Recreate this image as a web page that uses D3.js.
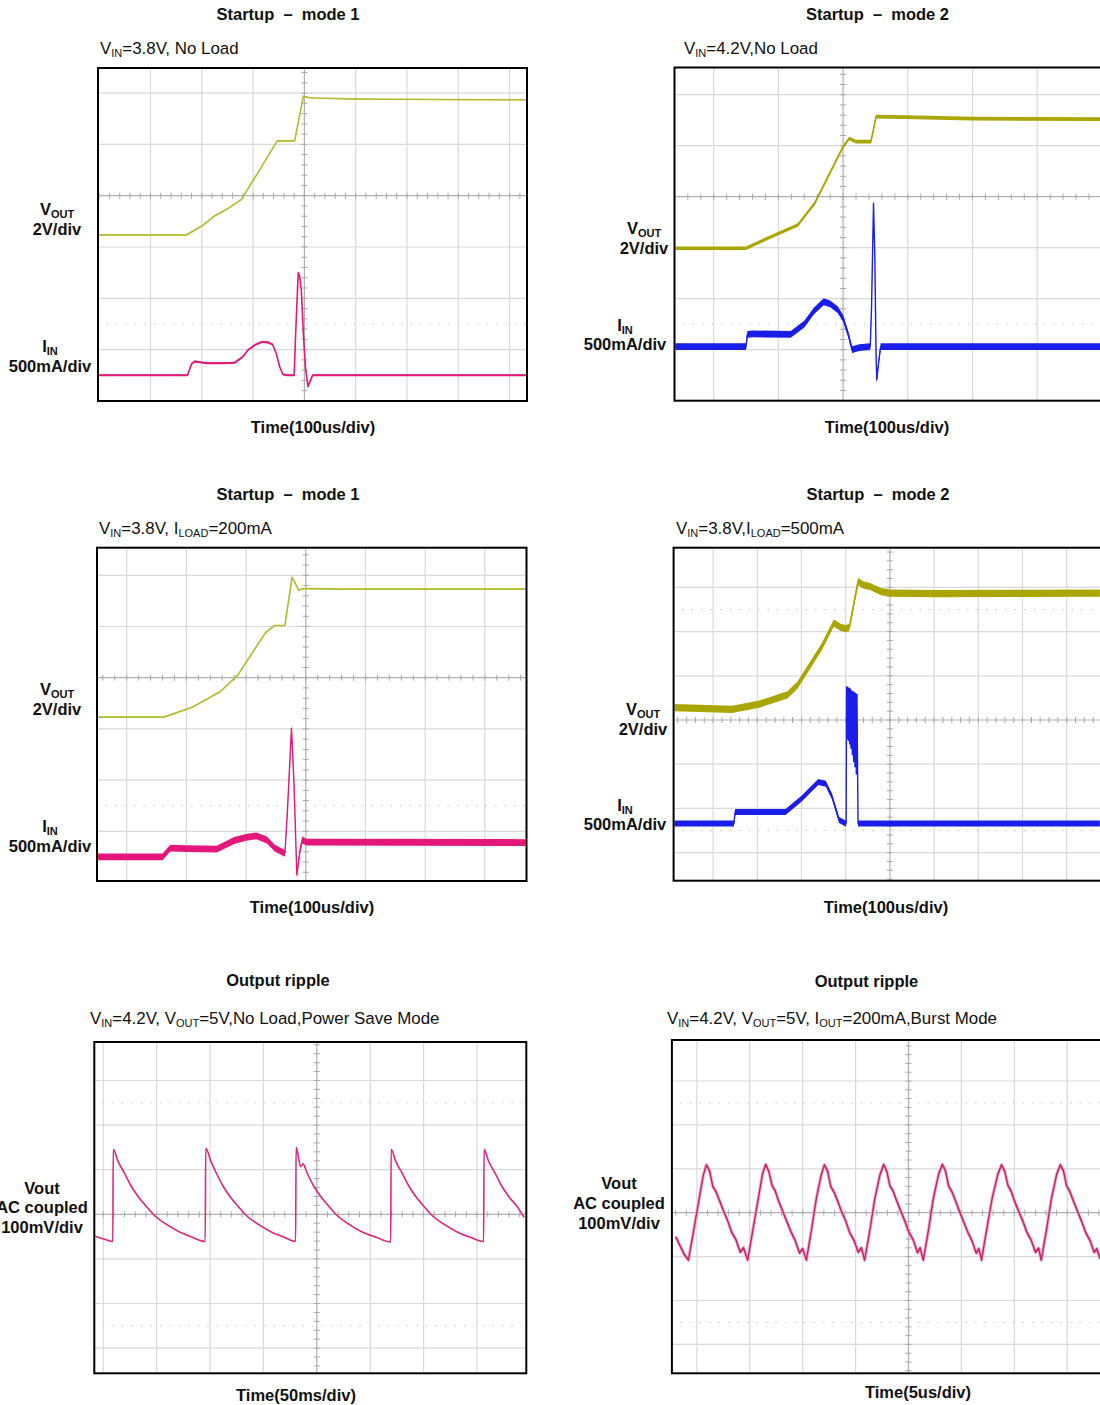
<!DOCTYPE html>
<html>
<head>
<meta charset="utf-8">
<script src="https://cdn.jsdelivr.net/npm/d3@7/dist/d3.min.js"></script>
<style>
  body { margin: 0; background: #fff; }
  svg { display: block; font-family: "Liberation Sans", Arial, sans-serif; }
</style>
</head>
<body>
<svg id="chart" width="1100" height="1405"></svg>
<script>
// ---- waveform data, read off the scope shots ----
// startup traces: [time us, volts] and [time us, mA]
const p1Vout = [[-404,0],[-230,0],[-200,0.35],[-177,0.72],[-150,1.02],[-123,1.38],[-90,2.45],[-53,3.67],[-19,3.67],[-2,5.41],[8,5.36],[18,5.34],[100,5.30],[250,5.28],[440,5.27]];
const p1Iin = [[-404,0],[-228,0],[-220,110],[-214,135],[-200,125],[-190,118],[-160,118],[-136,122],[-120,180],[-110,245],[-95,300],[-83,325],[-70,320],[-62,300],[-55,215],[-48,80],[-42,10],[-35,0],[-20,0],[-17,410],[-12,1000],[-9,960],[-6,830],[-2,400],[2,80],[7,-110],[11,-60],[16,0],[440,0]];

const p2Vout = [[-262,0],[-150,0],[-120,0.35],[-70,0.91],[-44,1.76],[0,3.98],[9.5,4.30],[20,4.18],[43,4.18],[51,5.16],[95,5.14],[200,5.08],[400,5.06]];
const p2Iin = [[-262,0],[-150,0],[-148,120],[-140,125],[-81,120],[-60,220],[-45,350],[-30,440],[-20,420],[-8,360],[0,278],[8,120],[14,-30],[25,-10],[42,0],[44,400],[47,1405],[49,900],[51,-100],[52,-325],[55,-150],[58,0],[400,0]];

const p3Vout = [[-351,0],[-238,0],[-189,0.40],[-143,1.0],[-114,1.64],[-68,3.28],[-52,3.58],[-35,3.58],[-23,5.46],[-17,5.2],[-12,4.96],[-5,5.02],[65,5.0],[371,5.0]];
const p3Iin = [[-351,0],[-240,0],[-227,85],[-200,80],[-149,75],[-120,160],[-100,190],[-83,205],[-65,165],[-52,85],[-35,35],[-31,425],[-24,1255],[-20,750],[-15,-175],[-10,50],[-6,165],[1,145],[371,140]];

const p4Vout = [[-492,0],[-357,-0.08],[-295,0.16],[-232,0.58],[-209,1.02],[-154,2.76],[-127,3.82],[-110,3.62],[-100,3.58],[-92,3.62],[-72,5.70],[-60,5.55],[-45,5.48],[-20,5.25],[2,5.18],[100,5.16],[475,5.18]];
const p4Iin = [[-492,0],[-353,0],[-350,130],[-345,130],[-236,130],[-200,280],[-162,470],[-145,450],[-131,305],[-115,40],[-100,0],
  [-99,0],[-98,1545],[-97,960],[-95.5,1540],[-94,940],[-92.5,1530],[-91,900],[-89.5,1520],[-88,850],[-86.5,1500],[-85,780],[-83.5,1490],[-82,700],[-80.5,1480],[-79,640],[-77.5,1470],[-76,560],[-74.5,1460],[-73,520],
  [-72,0],[-68,0],[475,0]];

// ripple traces: [time ms, mV] and [time us, mV]
const p5Ripple = [[-208,-49],[-200,-55],[-191,-61],[-190.6,146],[-186,118],[-180,92],[-174,64],[-167,39],[-159,16],[-151,-5],[-141,-22],[-129,-39],[-117,-51],[-104.5,-61],
  [-104,148],[-99,118],[-94,92],[-88,64],[-81,39],[-73,16],[-65,-5],[-55,-22],[-43,-39],[-31,-51],[-19.8,-61],
  [-19.4,150],[-15,107],[-13,113],[-9,92],[-3,64],[4,39],[12,16],[20,-5],[30,-22],[42,-39],[55,-51],[69.2,-62],
  [69.6,146],[74,118],[80,92],[86,64],[93,39],[101,16],[109,-5],[119,-22],[131,-39],[143,-51],[156.2,-61],
  [156.6,145],[161,118],[167,92],[173,64],[180,39],[188,16],[194,-7]];

const p6Ripple = [[-22.0,-55],[-21.5,-80],[-21.2,-95],[-20.8,-108],
  [-20.3,-40],[-19.8,30],[-19.4,85],[-19.1,109],
  [-18.8,95],[-18.5,60],[-18.2,48],[-17.9,30],[-17.5,5],[-17.1,-18],[-16.7,-45],[-16.3,-62],[-15.9,-90],[-15.6,-80],[-15.2,-108],
  [-14.7,-38],[-14.2,32],[-13.8,88],[-13.5,110],
  [-13.2,94],[-12.9,62],[-12.6,50],[-12.3,28],[-11.9,4],[-11.5,-20],[-11.1,-44],[-10.7,-64],[-10.3,-92],[-10.0,-82],[-9.65,-108],
  [-9.15,-36],[-8.7,34],[-8.25,86],[-7.95,109],
  [-7.65,95],[-7.35,60],[-7.05,47],[-6.75,30],[-6.35,4],[-5.95,-18],[-5.55,-46],[-5.15,-63],[-4.75,-90],[-4.45,-80],[-4.15,-108],
  [-3.65,-40],[-3.2,30],[-2.7,86],[-2.35,110],
  [-2.05,94],[-1.75,61],[-1.45,49],[-1.15,29],[-0.75,5],[-0.35,-19],[0.05,-45],[0.45,-62],[0.85,-91],[1.1,-80],[1.4,-108],
  [1.9,-38],[2.35,33],[2.85,88],[3.2,110],
  [3.5,95],[3.8,60],[4.1,48],[4.4,30],[4.8,4],[5.2,-20],[5.6,-44],[6.0,-64],[6.4,-92],[6.65,-82],[6.9,-108],
  [7.4,-37],[7.9,32],[8.45,88],[8.8,109],
  [9.1,94],[9.4,62],[9.7,49],[10.0,28],[10.4,4],[10.8,-19],[11.2,-45],[11.6,-63],[12.0,-90],[12.3,-81],[12.55,-108],
  [13.05,-38],[13.5,31],[14.0,87],[14.35,109],
  [14.65,95],[14.95,61],[15.25,48],[15.55,29],[15.95,5],[16.35,-19],[16.75,-45],[17.15,-63],[17.55,-90],[17.8,-82],[18.1,-105]];

// ---- text ----
const titles = ["Startup  \u2013  mode 1", "Startup  \u2013  mode 2", "Startup  \u2013  mode 1", "Startup  \u2013  mode 2", "Output ripple", "Output ripple"];
const subtitles = [
  [["V"],["IN","s"],["=3.8V, No Load"]],
  [["V"],["IN","s"],["=4.2V,No Load"]],
  [["V"],["IN","s"],["=3.8V, I"],["LOAD","s"],["=200mA"]],
  [["V"],["IN","s"],["=3.8V,I"],["LOAD","s"],["=500mA"]],
  [["V"],["IN","s"],["=4.2V, V"],["OUT","s"],["=5V,No Load,Power Save Mode"]],
  [["V"],["IN","s"],["=4.2V, V"],["OUT","s"],["=5V, I"],["OUT","s"],["=200mA,Burst Mode"]]
];
const timeLabels = ["Time(100us/div)", "Time(100us/div)", "Time(100us/div)", "Time(100us/div)", "Time(50ms/div)", "Time(5us/div)"];
const voutLabel = [["V"],["OUT","s"]];
const iinLabel = [["I"],["IN","s"]];
const rippleLabel = ["Vout", "AC coupled", "100mV/div"];

// ---- layout of each scope shot (frame px, graticule centre, px per div) ----
const panels = [
  {id:"p1", frame:[97,67,528,402], cx:304.4, cy:195.7, dx:51.3, dy:51.3, tDiv:100,
   title:[288,14], sub:[100,48], time:[313,427],
   labels:[[57,209,voutLabel],[57,229,"2V/div"],[50,346,iinLabel],[50,366,"500mA/div"]],
   traces:[{data:p1Vout, perDiv:2, off:-0.766, color:"#b5b92e", band:0.4, w:1.6},
           {data:p1Iin, perDiv:500, off:-3.50, color:"#e5177b", band:1.0, w:1.6}]},
  {id:"p2", frame:[673.5,66.5,1112,401.7], cx:843.1, cy:196.7, dx:64.7, dy:51, tDiv:100,
   title:[877.5,14], sub:[684,48], time:[887,427],
   labels:[[644,228,voutLabel],[644,248,"2V/div"],[625,325,iinLabel],[625,344,"500mA/div"]],
   traces:[{data:p2Vout, perDiv:2, off:-1.01, color:"#aaa600", band:1.8, w:1.6},
           {data:p2Iin, perDiv:500, off:-2.94, color:"#1b1de8", band:3.4, w:1.4}]},
  {id:"p3", frame:[96,546.7,527.5,882], cx:305.8, cy:677.7, dx:59.7, dy:51.2, tDiv:100,
   title:[288,494], sub:[99,528], time:[312,907],
   labels:[[57,689,voutLabel],[57,709,"2V/div"],[50,826,iinLabel],[50,846,"500mA/div"]],
   traces:[{data:p3Vout, perDiv:2, off:-0.77, color:"#b5b92e", band:0.4, w:1.6},
           {data:p3Iin, perDiv:500, off:-3.50, color:"#e5177b", band:3.4, w:1.4}]},
  {id:"p4", frame:[672.6,546.7,1112,881.7], cx:889.9, cy:720, dx:44.2, dy:44.2, tDiv:100,
   title:[878,494], sub:[676,528], time:[886,907],
   labels:[[643,709,voutLabel],[643,729,"2V/div"],[625,805,iinLabel],[625,824,"500mA/div"]],
   traces:[{data:p4Vout, perDiv:2, off:0.28, color:"#aaa600", band:3.6, w:1.6},
           {data:p4Iin, perDiv:500, off:-2.34, color:"#1b1de8", band:3.0, w:1.4}]},
  {id:"p5", frame:[93.3,1041,527.3,1374.3], cx:316.8, cy:1214.3, dx:53.4, dy:44.6, tDiv:50,
   title:[278,980], sub:[90,1018], time:[296,1395],
   labels:[[42,1188,rippleLabel[0]],[42,1207,rippleLabel[1]],[42,1227,rippleLabel[2]]],
   traces:[{data:p5Ripple, perDiv:100, off:0, color:"#e0267f", band:0.3, w:1.6, curve:true}]},
  {id:"p6", frame:[670.9,1039,1112,1374.3], cx:908.5, cy:1212.7, dx:52.9, dy:43.9, tDiv:5,
   title:[866.5,981], sub:[667,1018], time:[918,1392],
   labels:[[619,1183,rippleLabel[0]],[619,1203,rippleLabel[1]],[619,1223,rippleLabel[2]]],
   traces:[{data:p6Ripple, perDiv:100, off:0, color:"#cc1f6a", band:1.2, w:1.3, halo:"#eaa9c6"}]}
];

const FS_BOLD = 16.5, FS_NORM = 16.9;
const svg = d3.select("#chart");
svg.append("rect").attr("width", 1100).attr("height", 1405).attr("fill", "#fff");

// write text made of plain and subscript pieces
function richText(g, x, y, parts, anchor, bold){
  const fs = bold ? FS_BOLD : FS_NORM;
  const t = g.append("text")
    .attr("x", x).attr("y", y + 6)
    .attr("text-anchor", anchor)
    .attr("font-size", fs + "px")
    .attr("font-weight", bold ? "bold" : "normal")
    .attr("fill", "#111")
    .style("white-space", "pre");
  if (typeof parts === "string") { t.text(parts); return t; }
  let down = 0;
  parts.forEach(p => {
    const sub = p[1] === "s";
    const dy = sub ? 3 - down : -down;
    down = sub ? 3 : 0;
    t.append("tspan")
      .attr("dy", dy)
      .attr("font-size", sub ? "11px" : fs + "px")
      .text(p[0]);
  });
  return t;
}

function drawScope(p, i){
  const [L, T, R, B] = p.frame;
  const g = svg.append("g").attr("id", p.id);

  g.append("clipPath").attr("id", p.id + "_clip")
    .append("rect").attr("x", L + 2).attr("y", T + 2)
    .attr("width", R - L - 4).attr("height", B - T - 4);

  // graticule in divisions
  const gx = d3.scaleLinear().domain([0, 1]).range([p.cx, p.cx + p.dx]);
  const gy = d3.scaleLinear().domain([0, 1]).range([p.cy, p.cy - p.dy]);
  const grid = g.append("g").attr("clip-path", "url(#" + p.id + "_clip)");

  const xs = d3.range(Math.ceil(gx.invert(L)), Math.floor(gx.invert(R)) + 1)
    .filter(k => k !== 0 && gx(k) > L + 5 && gx(k) < R - 5);
  const ys = d3.range(Math.ceil(gy.invert(B)), Math.floor(gy.invert(T)) + 1)
    .filter(k => k !== 0 && gy(k) > T + 5 && gy(k) < B - 5);

  grid.selectAll(".vx").data(xs).join("line")
    .attr("x1", d => gx(d)).attr("x2", d => gx(d))
    .attr("y1", T).attr("y2", B)
    .attr("stroke", "#d9d9d9").attr("stroke-width", 1.2);
  grid.selectAll(".hy").data(ys).join("line")
    .attr("x1", L).attr("x2", R)
    .attr("y1", d => gy(d)).attr("y2", d => gy(d))
    .attr("stroke", "#d9d9d9").attr("stroke-width", 1.2);

  // dotted reference lines at +/-2.5 div
  grid.selectAll(".dot").data([2.5, -2.5].filter(k => gy(k) > T + 3 && gy(k) < B - 3)).join("line")
    .attr("x1", L).attr("x2", R)
    .attr("y1", d => gy(d)).attr("y2", d => gy(d))
    .attr("stroke", "#c4c4c4").attr("stroke-width", 1)
    .attr("stroke-dasharray", "1.5,8");

  // centre cross with minor ticks
  grid.append("line").attr("x1", L).attr("x2", R).attr("y1", gy(0)).attr("y2", gy(0))
    .attr("stroke", "#b0b0b0").attr("stroke-width", 1.2);
  grid.append("line").attr("x1", gx(0)).attr("x2", gx(0)).attr("y1", T).attr("y2", B)
    .attr("stroke", "#b0b0b0").attr("stroke-width", 1.2);
  const minX = d3.range(Math.ceil(gx.invert(L) * 5), Math.floor(gx.invert(R) * 5) + 1).map(k => k / 5);
  const minY = d3.range(Math.ceil(gy.invert(B) * 5), Math.floor(gy.invert(T) * 5) + 1).map(k => k / 5);
  grid.selectAll(".tx").data(minX).join("line")
    .attr("x1", d => gx(d)).attr("x2", d => gx(d))
    .attr("y1", gy(0) - 3).attr("y2", gy(0) + 3)
    .attr("stroke", "#a8a8a8").attr("stroke-width", 1);
  grid.selectAll(".ty").data(minY).join("line")
    .attr("x1", gx(0) - 3).attr("x2", gx(0) + 3)
    .attr("y1", d => gy(d)).attr("y2", d => gy(d))
    .attr("stroke", "#a8a8a8").attr("stroke-width", 1);

  // traces
  const x = d3.scaleLinear().domain([0, p.tDiv]).range([p.cx, p.cx + p.dx]);
  const plot = g.append("g").attr("clip-path", "url(#" + p.id + "_clip)");
  p.traces.forEach(tr => {
    const y = d3.scaleLinear().domain([0, tr.perDiv])
      .range([gy(tr.off), gy(tr.off + 1)]);
    const curve = tr.curve ? d3.curveMonotoneX : d3.curveLinear;
    if (tr.halo) {
      plot.append("path").datum(tr.data)
        .attr("d", d3.line().x(d => x(d[0])).y(d => y(d[1])).curve(curve))
        .attr("fill", "none").attr("stroke", tr.halo).attr("stroke-width", 3.2)
        .attr("stroke-linejoin", "round");
    }
    plot.append("path").datum(tr.data)
      .attr("d", d3.area().x(d => x(d[0]))
        .y0(d => y(d[1]) - tr.band).y1(d => y(d[1]) + tr.band).curve(curve))
      .attr("fill", tr.color);
    plot.append("path").datum(tr.data)
      .attr("d", d3.line().x(d => x(d[0])).y(d => y(d[1])).curve(curve))
      .attr("fill", "none").attr("stroke", tr.color).attr("stroke-width", tr.w)
      .attr("stroke-linejoin", "round");
  });

  // frame
  g.append("rect").attr("x", L + 1).attr("y", T + 1)
    .attr("width", R - L - 2).attr("height", B - T - 2)
    .attr("fill", "none").attr("stroke", "#000").attr("stroke-width", 2);

  // texts
  richText(g, p.title[0], p.title[1], titles[i], "middle", true);
  richText(g, p.sub[0], p.sub[1], subtitles[i], "start", false);
  richText(g, p.time[0], p.time[1], timeLabels[i], "middle", true);
  p.labels.forEach(l => richText(g, l[0], l[1], l[2], "middle", true));
}

panels.forEach(drawScope);
</script>
</body>
</html>
